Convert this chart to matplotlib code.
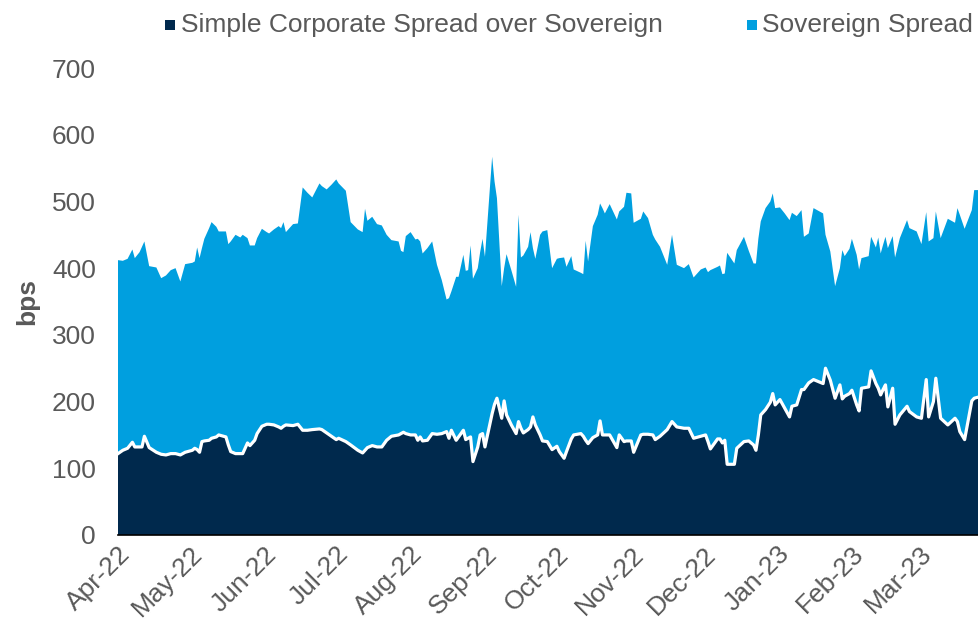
import matplotlib
matplotlib.use('Agg')
import matplotlib.pyplot as plt
import matplotlib.dates as mdates
import numpy as np
import pandas as pd
from matplotlib.patches import Rectangle

plt.rcParams['font.family'] = ['Liberation Sans', 'DejaVu Sans']

start_date = '2022-04-01'
day_offsets = [0, 2, 4, 6, 7, 9, 10, 11, 13, 16, 18, 20, 22, 24, 26, 28, 31, 32, 33, 34,
               35, 36, 38, 39, 41, 42, 45, 46, 47, 49, 51, 52, 54, 55, 57, 58, 60, 62, 63, 65,
               67, 68, 69, 70, 73, 75, 77, 79, 81, 84, 85, 87, 89, 91, 92, 95, 97, 100, 102, 103,
               104, 106, 108, 110, 112, 114, 117, 118, 119, 120, 122, 124, 125, 126, 127, 129, 131, 133, 135, 137,
               138, 139, 141, 142, 144, 145, 146, 147, 148, 150, 151, 152, 153, 156, 157, 158, 160, 161, 162, 164,
               166, 167, 168, 169, 171, 172, 173, 174, 176, 177, 179, 181, 183, 184, 186, 187, 189, 190, 193, 194,
               195, 196, 198, 200, 201, 202, 203, 205, 208, 209, 211, 212, 214, 215, 218, 219, 221, 223, 224, 226,
               229, 231, 233, 236, 238, 240, 243, 245, 246, 247, 250, 251, 252, 253, 254, 257, 258, 261, 263, 265,
               266, 267, 268, 270, 272, 273, 274, 276, 278, 280, 281, 283, 285, 286, 288, 290, 294, 295, 297, 299,
               301, 302, 303, 305, 306, 308, 309, 310, 313, 314, 316, 317, 318, 319, 320, 321, 323, 324, 326, 329,
               330, 333, 335, 337, 338, 340, 341, 343, 346, 349, 350, 351, 353, 356, 357, 359]

corporate = [122, 127, 130, 139, 132, 132, 132, 148, 131, 124, 121, 120, 122, 122, 120, 124, 127, 130, 128, 124,
             140, 141, 142, 145, 147, 150, 147, 135, 125, 122, 122, 122, 138, 134, 142, 152, 163, 166, 166, 165,
             162, 160, 163, 165, 164, 166, 157, 157, 158, 159, 158, 153, 148, 143, 145, 140, 135, 127, 123, 127,
             131, 134, 132, 132, 142, 148, 150, 152, 154, 152, 150, 150, 142, 147, 141, 142, 152, 151, 152, 155,
             145, 157, 142, 147, 157, 143, 145, 147, 110, 132, 150, 152, 132, 182, 196, 205, 175, 201, 180, 165,
             152, 170, 160, 153, 158, 162, 177, 165, 150, 141, 140, 128, 133, 125, 115, 125, 144, 150, 152, 148,
             142, 137, 146, 150, 171, 150, 150, 150, 131, 150, 140, 141, 141, 124, 150, 151, 151, 150, 143, 148,
             158, 170, 162, 160, 160, 145, 148, 150, 140, 129, 144, 144, 138, 142, 106, 106, 130, 140, 141, 135,
             127, 150, 180, 188, 199, 212, 195, 203, 190, 177, 193, 195, 218, 218, 228, 233, 227, 250, 232, 205,
             225, 204, 208, 212, 217, 195, 186, 220, 222, 246, 227, 220, 210, 218, 225, 192, 220, 166, 180, 193,
             185, 177, 175, 233, 177, 200, 235, 175, 165, 175, 170, 155, 143, 201, 205, 207]

sovereign = [290, 284, 284, 289, 283, 292, 300, 292, 272, 277, 264, 269, 275, 278, 260, 282, 281, 280, 303, 291,
             290, 303, 318, 324, 315, 305, 308, 301, 315, 328, 324, 328, 307, 300, 292, 293, 296, 288, 286, 293,
             301, 300, 306, 289, 302, 301, 364, 356, 348, 368, 365, 365, 377, 390, 382, 376, 334, 331, 331, 362,
             340, 343, 334, 332, 308, 294, 290, 274, 270, 296, 304, 293, 302, 293, 281, 288, 288, 254, 230, 198,
             210, 208, 245, 240, 263, 253, 252, 287, 274, 268, 274, 292, 285, 385, 334, 300, 198, 199, 241, 232,
             220, 310, 256, 266, 274, 292, 253, 249, 300, 314, 317, 272, 281, 290, 301, 277, 274, 248, 241, 243,
             299, 273, 317, 330, 326, 340, 332, 346, 342, 335, 352, 372, 371, 344, 324, 334, 324, 300, 300, 284,
             247, 280, 243, 240, 246, 241, 250, 251, 254, 268, 258, 260, 253, 250, 317, 301, 297, 307, 285, 272,
             280, 294, 290, 302, 301, 300, 295, 288, 292, 295, 290, 283, 269, 229, 224, 257, 255, 200, 193, 168,
             175, 223, 210, 217, 227, 225, 212, 195, 196, 201, 204, 226, 212, 217, 222, 238, 228, 250, 265, 279,
             275, 278, 261, 251, 263, 245, 250, 270, 309, 293, 320, 325, 316, 286, 312, 310]

series_names = ['Simple Corporate Spread over Sovereign', 'Sovereign Spread']
series_colors = ['#00294D', '#009FDF']
y_ticks = [0, 100, 200, 300, 400, 500, 600, 700]
y_label = 'bps'

dates = pd.Timestamp(start_date) + pd.to_timedelta(day_offsets, unit='D')

text_color = '#595959'
W, H = 979, 628
fig = plt.figure(figsize=(W / 100, H / 100), dpi=100)
ax = fig.add_axes([118 / W, (H - 535) / H, (W - 118) / W, (535 - 68) / H])

ax.stackplot(dates, corporate, sovereign, colors=series_colors, linewidth=0)
ax.plot(dates, corporate, color='white', lw=2.3, solid_joinstyle='round')

ax.set_ylim(0, 700)
ax.set_xlim(dates[0], dates[-1])
ax.set_yticks(y_ticks)
ax.tick_params(axis='both', length=0, labelsize=19, colors=text_color)
ax.tick_params(axis='y', pad=16)
ax.tick_params(axis='x', pad=5)

ax.xaxis.set_major_locator(mdates.MonthLocator())
ax.xaxis.set_major_formatter(mdates.DateFormatter('%b-%y'))
for lbl in ax.get_xticklabels():
    lbl.set_rotation(45)
    lbl.set_ha('right')
    lbl.set_rotation_mode('anchor')

for s in ['top', 'right', 'left']:
    ax.spines[s].set_visible(False)
ax.spines['bottom'].set_color('black')
ax.spines['bottom'].set_linewidth(1.2)

ax.set_ylabel(y_label, fontsize=19, fontweight='bold', color=text_color, labelpad=9)

# legend drawn manually (square marker + text) at the top
legend_items = [(165, 181), (747, 762)]
for (mx, tx), name, col in zip(legend_items, series_names, series_colors):
    fig.add_artist(Rectangle((mx / W, 1 - 30 / H), 10 / W, 10 / H, transform=fig.transFigure,
                             facecolor=col, edgecolor='none'))
    fig.text(tx / W, 1 - 25 / H, name, fontsize=19, color=text_color, ha='left', va='center')

fig.savefig('out.png', dpi=100)
